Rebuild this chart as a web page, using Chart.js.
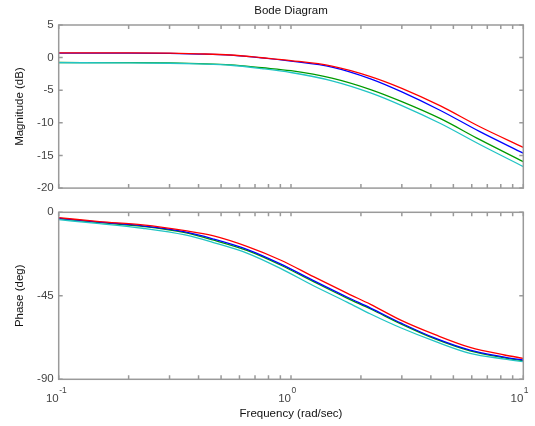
<!DOCTYPE html>
<html>
<head>
<meta charset="utf-8">
<script src="https://cdn.jsdelivr.net/npm/chart.js@4/dist/chart.umd.min.js"></script>
<style>
  html, body { margin: 0; padding: 0; background: #fff; }
  #wrap { position: relative; width: 535px; height: 426px; }
  #wrap canvas { position: absolute; left: 0; }
</style>
</head>
<body>
<div id="wrap">
  <canvas id="mag" width="535" height="200" style="top:0;width:535px;height:200px"></canvas>
  <canvas id="phase" width="535" height="226" style="top:200px;width:535px;height:226px"></canvas>
</div>
<script>
// frequency grid (rad/sec) and magnitude in dB for the four responses
const magFreq = [0.1, 0.2, 0.3, 0.4, 0.55, 0.75, 1, 1.5, 2.2, 3, 4.4, 6.5, 10];
const magRed = [0.73, 0.72, 0.68, 0.58, 0.40, -0.02, -0.45, -1.3, -2.9, -4.7, -7.4, -10.6, -13.75];
const magBlue = [0.70, 0.69, 0.64, 0.55, 0.37, -0.05, -0.55, -1.45, -3.25, -5.25, -8.1, -11.35, -14.65];
const magGreen = [-0.75, -0.77, -0.82, -0.92, -1.1, -1.55, -2.0, -3.15, -4.9, -6.75, -9.36, -12.58, -15.95];
const magCyan = [-0.78, -0.8, -0.86, -0.97, -1.17, -1.68, -2.28, -3.55, -5.4, -7.35, -10.1, -13.32, -16.7];

// phase in degrees
const phaseFreq = [0.1, 0.15, 0.23, 0.35, 0.46, 0.65, 0.9, 1.25, 1.75, 2.2, 3, 4.2, 5.9, 8.3, 10];
const phaseRed = [-2.9, -5.0, -6.8, -9.9, -12.6, -18.5, -25.7, -34.7, -43.7, -49.6, -58.4, -66.1, -72.8, -76.9, -78.7];
const phaseBlue = [-3.2, -5.3, -7.3, -10.6, -14.3, -20.1, -27.8, -36.8, -45.8, -51.6, -59.9, -68.0, -74.3, -78.0, -79.6];
const phaseGreen = [-3.4, -5.6, -7.6, -11.0, -14.9, -20.7, -28.4, -37.4, -46.4, -52.1, -60.4, -68.4, -74.7, -78.4, -80.0];
const phaseCyan = [-4.0, -6.1, -8.6, -12.2, -16.2, -22.1, -30.2, -39.6, -48.5, -54.8, -62.5, -69.7, -76.0, -79.1, -80.5];

// axis ticks
const magTicks = [5, 0, -5, -10, -15, -20];
const phaseTicks = [0, -45, -90];
const decades = [0.1, 1, 10];
const decadeExp = ['-1', '0', '1'];

const FONT = '"Liberation Sans", Arial, sans-serif';
const colors = { red: '#ff0000', blue: '#0000ff', green: '#009a00', cyan: '#22c4c4' };

function makeSets(freq, series) {
    // first dataset is painted last, so red ends up on top
    return series.map(([vals, color]) => ({
        data: freq.map((f, i) => ({ x: f, y: vals[i] })),
        borderColor: color,
        borderWidth: 1.3,
        pointRadius: 0,
        cubicInterpolationMode: 'monotone',
        fill: false
    }));
}

// gray box with inward ticks on all four sides, plus title and 10^n labels
const boxTicks = {
    id: 'boxTicks',
    afterDatasetsDraw(chart, args, opts) {
        const { ctx, chartArea: a, scales } = chart;
        const x = scales.x, y = scales.y;
        ctx.save();
        ctx.strokeStyle = '#9a9a9a';
        ctx.lineWidth = 1.5;
        ctx.strokeRect(a.left, a.top, a.right - a.left, a.bottom - a.top);

        ctx.beginPath();
        decades.forEach(d => {
            for (let k = 1; k <= 9; k++) {
                const v = d * k;
                if (v > x.max * 1.0001) break;
                const px = x.getPixelForValue(v);
                ctx.moveTo(px, a.bottom); ctx.lineTo(px, a.bottom - 4);
                ctx.moveTo(px, a.top); ctx.lineTo(px, a.top + 4);
            }
        });
        opts.yTicks.forEach(v => {
            const py = y.getPixelForValue(v);
            ctx.moveTo(a.left, py); ctx.lineTo(a.left + 4, py);
            ctx.moveTo(a.right, py); ctx.lineTo(a.right - 4, py);
        });
        ctx.stroke();

        if (opts.title) {
            ctx.fillStyle = '#111';
            ctx.font = '11.5px ' + FONT;
            ctx.textAlign = 'center';
            ctx.textBaseline = 'middle';
            ctx.fillText(opts.title, (a.left + a.right) / 2, 11);
        }

        if (opts.xLabels) {
            decades.forEach((d, i) => {
                const px = x.getPixelForValue(d);
                ctx.fillStyle = '#444';
                ctx.textBaseline = 'alphabetic';
                ctx.font = '11.5px ' + FONT;
                ctx.textAlign = 'right';
                ctx.fillText('10', px, a.bottom + 23);
                ctx.font = '8.5px ' + FONT;
                ctx.textAlign = 'left';
                ctx.fillText(decadeExp[i], px + 0.5, a.bottom + 14);
            });
        }
        ctx.restore();
    }
};

function yScale(min, max, step, label) {
    return {
        min: min,
        max: max,
        afterFit: s => { s.width = 58.7; },
        grid: { display: false, drawTicks: false },
        border: { display: false },
        ticks: { stepSize: step, padding: 5, color: '#444', font: { family: FONT, size: 11.5 } },
        title: {
            display: true,
            text: label,
            color: '#111',
            font: { family: FONT, size: 11.5 },
            padding: { top: 13, bottom: 0 }
        }
    };
}

new Chart(document.getElementById('mag'), {
    type: 'line',
    data: {
        datasets: makeSets(magFreq, [
            [magRed, colors.red], [magCyan, colors.cyan], [magBlue, colors.blue], [magGreen, colors.green]
        ])
    },
    options: {
        responsive: false,
        animation: false,
        layout: { padding: { top: 25, right: 11.7, bottom: 6.7, left: 0 } },
        plugins: {
            legend: { display: false },
            tooltip: { enabled: false },
            boxTicks: { yTicks: magTicks, title: 'Bode Diagram' }
        },
        scales: {
            x: { type: 'logarithmic', min: 0.1, max: 10, display: false },
            y: yScale(-20, 5, 5, 'Magnitude (dB)')
        }
    },
    plugins: [boxTicks]
});

new Chart(document.getElementById('phase'), {
    type: 'line',
    data: {
        datasets: makeSets(phaseFreq, [
            [phaseRed, colors.red], [phaseCyan, colors.cyan], [phaseBlue, colors.blue], [phaseGreen, colors.green]
        ])
    },
    options: {
        responsive: false,
        animation: false,
        layout: { padding: { top: 12.3, right: 11.7, bottom: 0, left: 0 } },
        plugins: {
            legend: { display: false },
            tooltip: { enabled: false },
            boxTicks: { yTicks: phaseTicks, xLabels: true }
        },
        scales: {
            x: {
                type: 'logarithmic',
                min: 0.1,
                max: 10,
                afterFit: s => { s.height = 46.7; },
                grid: { display: false, drawTicks: false },
                border: { display: false },
                ticks: { display: false },
                title: {
                    display: true,
                    text: 'Frequency (rad/sec)',
                    color: '#111',
                    font: { family: FONT, size: 11.5 },
                    padding: { top: 0, bottom: 5 }
                }
            },
            y: yScale(-90, 0, 45, 'Phase (deg)')
        }
    },
    plugins: [boxTicks]
});
</script>
</body>
</html>
